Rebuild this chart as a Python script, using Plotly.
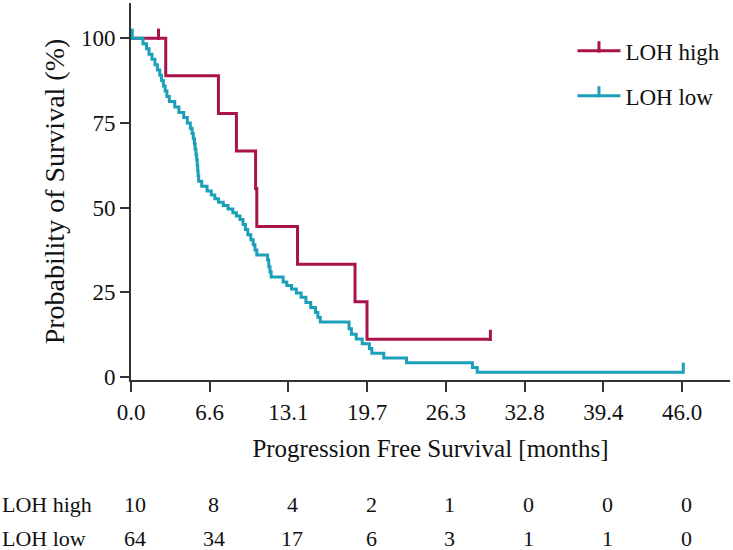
import plotly.graph_objects as go

# ---- data ----
x_tick_vals = [0, 6.571, 13.143, 19.714, 26.286, 32.857, 39.429, 46.0]
x_tick_text = ["0.0", "6.6", "13.1", "19.7", "26.3", "32.8", "39.4", "46.0"]
y_tick_vals = [0, 25, 50, 75, 100]

# LOH high: time (months), survival (%) after the step
high_t = [0, 2.9, 7.3, 8.8, 10.4, 10.5, 13.9, 18.7, 19.7, 30.0]
high_s = [100, 88.9, 77.8, 66.7, 55.6, 44.4, 33.3, 22.2, 11.1, 11.1]
high_cens_t = [2.3, 30.0]
high_cens_s = [100, 11.1]

# LOH low
low_t = [0, 1.0, 1.3, 1.5, 1.75, 2.0, 2.2, 2.4, 2.55, 2.7, 2.85, 3.0, 3.2,
         3.65, 4.0, 4.4, 4.7, 4.95, 5.1, 5.2, 5.3, 5.35, 5.42, 5.48, 5.53, 5.57,
         5.6, 5.65, 5.9, 6.35, 6.7, 7.0, 7.3, 7.7, 8.1, 8.5, 8.8, 9.1, 9.35,
         9.55, 9.75, 10.0, 10.2, 10.35, 10.5, 11.4, 11.5, 11.6, 11.7, 12.7, 13.0,
         13.4, 13.8, 14.2, 14.6, 15.0, 15.4, 15.6, 15.8, 18.2, 18.4, 18.8, 19.3,
         19.9, 20.1, 21.1, 23.0, 28.5, 28.9, 46.1]
low_s = [100, 98.4, 96.9, 95.3, 93.8, 92.2, 90.6, 89.1, 87.5, 85.9, 84.4,
         82.8, 81.3, 79.7, 78.1, 76.6, 75.0, 73.4, 71.9, 70.3, 68.8, 67.2, 65.6,
         64.1, 62.5, 60.9, 59.4, 57.8, 56.3, 54.9, 53.7, 52.6, 51.6, 50.6, 49.6,
         48.5, 47.5, 46.5, 45.0, 43.5, 42.0, 40.5, 39.0, 37.5, 36.0, 34.5, 32.5,
         31.0, 29.5, 28.0, 27.0, 26.0, 24.8, 23.5, 22.0, 20.5, 19.0, 17.6, 16.2,
         14.2, 12.6, 11.2, 9.8, 8.4, 7.0, 5.6, 4.2, 2.8, 1.4, 1.4]
low_cens_t = [0.1, 46.1]
low_cens_s = [100, 1.4]

# numbers at risk
risk_labels = ["LOH high", "LOH low"]
risk_high = [10, 8, 4, 2, 1, 0, 0, 0]
risk_low = [64, 34, 17, 6, 3, 1, 1, 0]

RED = "#A8134B"
CYAN = "#1C9FB8"
FONT = "Liberation Serif"

fig = go.Figure()


def add_curve(name, t, s, ct, cs, color):
    fig.add_trace(go.Scatter(
        x=t, y=s, name=name, mode="lines", showlegend=False,
        line=dict(color=color, width=3, shape="hv"),
        legendgroup=name, hoverinfo="x+y",
    ))
    # censor ticks (pointing up from the curve)
    fig.add_trace(go.Scatter(
        x=ct, y=cs, name=name, mode="markers", showlegend=False,
        legendgroup=name, hoverinfo="skip",
        marker=dict(symbol="line-ns", color=color, size=8,
                    line=dict(color=color, width=3), standoff=4, angle=180),
    ))
    # legend entry only (line with an upward censor tick)
    fig.add_trace(go.Scatter(
        x=[None], y=[None], name=name, mode="lines+markers",
        legendgroup=name, hoverinfo="skip",
        line=dict(color=color, width=3),
        marker=dict(symbol="line-ns", color=color, size=8,
                    line=dict(color=color, width=3), standoff=4, angle=0),
    ))


add_curve("LOH high", high_t, high_s, high_cens_t, high_cens_s, RED)
add_curve("LOH low", low_t, low_s, low_cens_t, low_cens_s, CYAN)

# risk table
plot_h = 377.0
for row, (vals, ypix) in enumerate([(risk_high, 504), (risk_low, 538)]):
    yp = (380 - ypix) / plot_h
    fig.add_annotation(x=-131 / 599, xref="paper", y=yp, yref="paper",
                       text=risk_labels[row], showarrow=False, xanchor="left",
                       yanchor="middle", font=dict(family=FONT, size=22, color="#111"))
    for xv, v in zip(x_tick_vals, vals):
        fig.add_annotation(x=xv, xref="x", y=yp, yref="paper", text=str(v),
                           showarrow=False, xanchor="center", yanchor="middle",
                           xshift=4, font=dict(family=FONT, size=22, color="#111"))

fig.update_layout(
    width=733, height=550,
    margin=dict(l=131, r=3, t=3, b=170, autoexpand=False),
    paper_bgcolor="white", plot_bgcolor="white",
    font=dict(family=FONT, size=23, color="#111"),
    showlegend=True,
    legend=dict(x=0.737, y=0.93, xanchor="left", yanchor="top",
                bgcolor="rgba(0,0,0,0)", font=dict(family=FONT, size=23),
                itemwidth=43, tracegroupgap=12, traceorder="grouped"),
    xaxis=dict(range=[0, 50], tickvals=x_tick_vals, ticktext=x_tick_text,
               ticks="outside", ticklen=10, tickwidth=2, tickcolor="#333",
               showline=True, linewidth=2, linecolor="#333",
               showgrid=False, zeroline=False, automargin=False,
               tickfont=dict(family=FONT, size=23),
               title=dict(text="Progression Free Survival [months]",
                          font=dict(family=FONT, size=25), standoff=16)),
    yaxis=dict(range=[-0.9, 110.4], tickvals=y_tick_vals,
               ticks="outside", ticklen=9, tickwidth=2, tickcolor="#333",
               showline=True, linewidth=2, linecolor="#333",
               showgrid=False, zeroline=False, automargin=False,
               tickfont=dict(family=FONT, size=23),
               title=dict(text="Probability of Survival (%)",
                          font=dict(family=FONT, size=28), standoff=8)),
)

fig.write_html("out.html", config={"displayModeBar": False},
               post_script="document.body.style.margin='0';")
